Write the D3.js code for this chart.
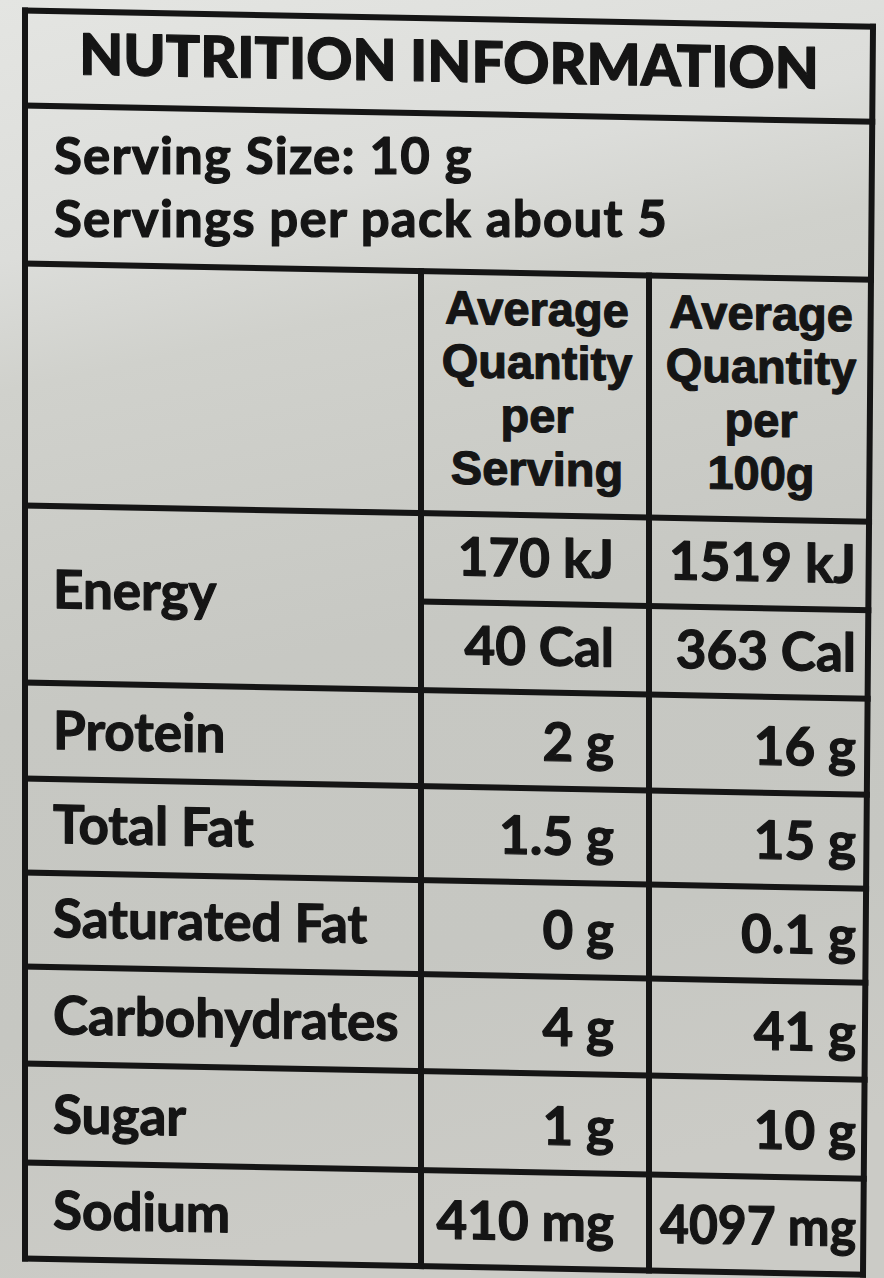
<!DOCTYPE html>
<html>
<head>
<meta charset="utf-8">
<script src="https://cdn.jsdelivr.net/npm/d3@7"></script>
<style>
  html, body { margin: 0; padding: 0; background: #cfd0cb; }
  svg { display: block; }
</style>
</head>
<body>
<div id="chart"></div>
<script>
// Label text
const title = 'NUTRITION INFORMATION'
const servingInfo = ['Serving Size: 10 g', 'Servings per pack about 5']
const headerPerServing = ['Average', 'Quantity', 'per', 'Serving']
const headerPer100g = ['Average', 'Quantity', 'per', '100g']

// Nutrient rows
const nutrients = ['Energy', 'Protein', 'Total Fat', 'Saturated Fat', 'Carbohydrates', 'Sugar', 'Sodium']
const energyPerServing = ['170 kJ', '40 Cal']
const energyPer100g = ['1519 kJ', '363 Cal']
const perServing = ['2 g', '1.5 g', '0 g', '4 g', '1 g', '410 mg']
const per100g = ['16 g', '15 g', '0.1 g', '41 g', '10 g', '4097 mg']

// Layout
const width = 884
const height = 1278
const tableTop = 10
const rowHeights = [95, 158, 242, 177, 96, 94, 94, 97, 99, 96]
const rowEdges = Array.from(d3.cumsum([tableTop, ...rowHeights]))
const tableBottom = rowEdges[rowEdges.length - 1]
const colEdges = [25, 421, 649]
const ink = '#151515'
const font = 'Lato, "Open Sans", sans-serif'
const headFont = '"Liberation Sans", Arial, sans-serif'
const skewDeg = 1.1
const skewTan = Math.tan(skewDeg * Math.PI / 180)

// right border leans in slightly toward the bottom (photo perspective)
const rightX = d3.scaleLinear().domain([tableTop, tableBottom]).range([873, 863])

const svg = d3.select('#chart')
  .append('svg')
  .attr('width', width)
  .attr('height', height)

// Background, lighter at the top like the photo
const defs = svg.append('defs')
const grad = defs.append('linearGradient')
  .attr('id', 'paper')
  .attr('x1', 0).attr('y1', 0).attr('x2', 0.15).attr('y2', 1)
grad.selectAll('stop')
  .data([
    [0, '#e4e5e2'], [0.2, '#dcddda'], [0.3, '#d0d1cc'],
    [0.55, '#c7c8c3'], [0.8, '#c6c7c2'], [1, '#cbcbc6']
  ])
  .join('stop')
  .attr('offset', d => d[0])
  .attr('stop-color', d => d[1])

svg.append('rect')
  .attr('width', width)
  .attr('height', height)
  .attr('fill', 'url(#paper)')

// Everything on the label is tilted a little
const g = svg.append('g')
  .attr('transform', `skewY(${skewDeg})`)

const lines = g.append('g')
  .attr('stroke', ink)
  .attr('stroke-width', 6)
  .attr('stroke-linecap', 'square')

// Horizontal rules
lines.selectAll('line.row')
  .data(rowEdges)
  .join('line')
  .attr('class', 'row')
  .attr('x1', colEdges[0])
  .attr('x2', d => rightX(d))
  .attr('y1', d => d)
  .attr('y2', d => d)

// Energy split line inside the value columns
const energyMid = (rowEdges[3] + rowEdges[4]) / 2
lines.append('line')
  .attr('x1', colEdges[1])
  .attr('x2', rightX(energyMid))
  .attr('y1', energyMid)
  .attr('y2', energyMid)

// Outer borders
lines.append('line')
  .attr('x1', colEdges[0]).attr('x2', colEdges[0])
  .attr('y1', tableTop).attr('y2', tableBottom)
lines.append('line')
  .attr('x1', rightX(tableTop)).attr('x2', rightX(tableBottom))
  .attr('y1', tableTop).attr('y2', tableBottom)

// Column separators start at the header row
lines.selectAll('line.col')
  .data(colEdges.slice(1))
  .join('line')
  .attr('class', 'col')
  .attr('x1', d => d).attr('x2', d => d)
  .attr('y1', rowEdges[2]).attr('y2', tableBottom)

// heavy print look: fill plus a thin outline
function inkStyle(sel) {
  sel.attr('fill', ink)
    .attr('stroke', ink)
    .attr('stroke-width', 1.2)
    .attr('stroke-linejoin', 'round')
    .attr('font-family', font)
    .attr('font-weight', 700)
}
const text = g.append('g').call(inkStyle)

// squeeze a text if it would run past its cell
function fit(sel, maxWidth) {
  sel.each(function (d) {
    const w = typeof maxWidth === 'function' ? maxWidth(d) : maxWidth
    if (this.getComputedTextLength() > w) {
      d3.select(this).attr('textLength', w).attr('lengthAdjust', 'spacingAndGlyphs')
    }
  })
}

// Title
text.append('text')
  .attr('x', (colEdges[0] + rightX(tableTop)) / 2)
  .attr('y', rowEdges[0] + 63)
  .attr('text-anchor', 'middle')
  .attr('font-size', 57)
  .attr('font-weight', 900)
  .text(title)

// Serving size block: kept level (two close lines), dropped by the tilt at its middle
const servingX = colEdges[0] + 29
svg.append('g').call(inkStyle)
  .selectAll('text.serving')
  .data(servingInfo)
  .join('text')
  .attr('class', 'serving')
  .attr('x', servingX)
  .attr('font-size', 51)
  .attr('letter-spacing', 1.2)
  .text(d => d)
  .attr('y', function (d, i) {
    const mid = servingX + this.getComputedTextLength() / 2
    return rowEdges[1] + 64 + i * 61 + mid * skewTan
  })

// Column headers, one word per line
const headerY = d3.scaleLinear().domain([0, 3]).range([rowEdges[2] + 52, rowEdges[3] - 30])
const colCenter = [(colEdges[1] + colEdges[2]) / 2 + 2, (colEdges[2] + rightX(rowEdges[3])) / 2 + 2]
;[headerPerServing, headerPer100g].forEach((words, c) => {
  text.selectAll(`text.head${c}`)
    .data(words)
    .join('text')
    .attr('class', `head${c}`)
    .attr('x', colCenter[c])
    .attr('y', (d, i) => headerY(i))
    .attr('text-anchor', 'middle')
    .attr('font-family', headFont)
    .attr('font-size', 47)
    .text(d => d)
})

// Nutrient names
const labelRows = nutrients.map((name, i) => {
  const r = 3 + i
  return { name, y: i === 0 ? rowEdges[r + 1] - 75 : rowEdges[r + 1] - 30 }
})
text.selectAll('text.label')
  .data(labelRows)
  .join('text')
  .attr('class', 'label')
  .attr('x', colEdges[0] + 28)
  .attr('y', d => d.y)
  .attr('font-size', 53)
  .text(d => d.name)
  .call(fit, colEdges[1] - colEdges[0] - 36)

// Values: energy has two stacked lines, the rest one per row
const valueRows = []
energyPerServing.forEach((v, i) => {
  const yb = i === 0 ? energyMid : rowEdges[4]
  valueRows.push({ v, col: 0, y: yb - 27 })
  valueRows.push({ v: energyPer100g[i], col: 1, y: yb - 27 })
})
perServing.forEach((v, i) => {
  const yb = rowEdges[5 + i]
  valueRows.push({ v, col: 0, y: yb - 28 })
  valueRows.push({ v: per100g[i], col: 1, y: yb - 28 })
})
const valueRight = [614, 856]
text.selectAll('text.value')
  .data(valueRows)
  .join('text')
  .attr('class', 'value')
  .attr('x', d => valueRight[d.col])
  .attr('y', d => d.y)
  .attr('text-anchor', 'end')
  .attr('font-size', 53)
  .text(d => d.v)
  .call(fit, d => valueRight[d.col] - colEdges[d.col + 1] - 11)
</script>
</body>
</html>
